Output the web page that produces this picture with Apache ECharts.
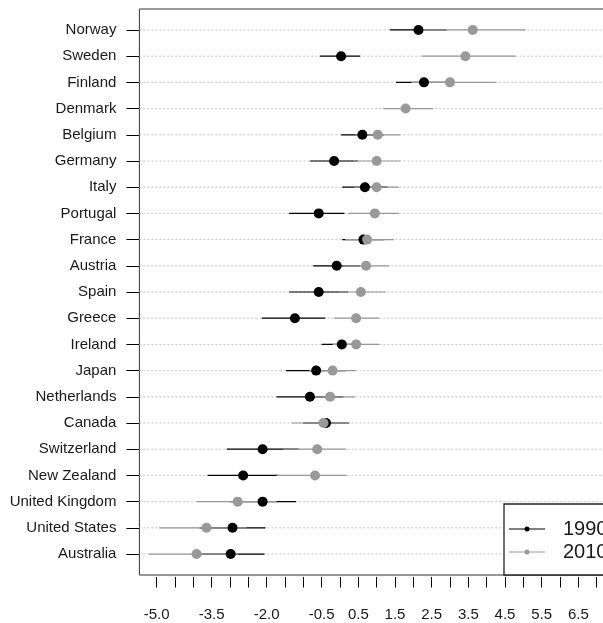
<!DOCTYPE html>
<html>
<head>
<meta charset="utf-8">
<script src="https://cdn.jsdelivr.net/npm/echarts@6/dist/echarts.min.js"></script>
<style>
  html, body { margin: 0; padding: 0; background: #fff; }
  #chart { width: 603px; height: 623px; }
</style>
</head>
<body>
<div id="chart"></div>
<script>
// Countries, top to bottom
const countries = ['Norway', 'Sweden', 'Finland', 'Denmark', 'Belgium', 'Germany', 'Italy',
  'Portugal', 'France', 'Austria', 'Spain', 'Greece', 'Ireland', 'Japan', 'Netherlands',
  'Canada', 'Switzerland', 'New Zealand', 'United Kingdom', 'United States', 'Australia'];

// 1990 estimates with interval bounds (Denmark has no 1990 value)
const est1990 = [2.14, 0.03, 2.29, null, 0.61, -0.16, 0.68, -0.58, 0.64, -0.09, -0.58, -1.23,
  0.05, -0.65, -0.82, -0.38, -2.11, -2.64, -2.11, -2.93, -2.98];
const lo1990 = [1.36, -0.55, 1.53, null, 0.03, -0.82, 0.06, -1.39, 0.06, -0.73, -1.39, -2.13,
  -0.50, -1.47, -1.73, -1.01, -3.09, -3.61, -3.02, -3.83, -3.90];
const hi1990 = [2.91, 0.55, 3.05, null, 1.19, 0.49, 1.30, 0.12, 1.21, 0.55, 0.22, -0.40,
  0.59, 0.16, 0.09, 0.25, -1.13, -1.67, -1.20, -2.03, -2.06];

// 2010 estimates with interval bounds
const est2010 = [3.62, 3.42, 3.00, 1.79, 1.03, 1.00, 1.00, 0.95, 0.74, 0.71, 0.57, 0.44,
  0.44, -0.20, -0.27, -0.45, -0.62, -0.68, -2.79, -3.64, -3.91];
const lo2010 = [2.17, 2.23, 1.95, 1.18, 0.42, 0.36, 0.38, 0.23, 0.14, 0.08, -0.03, -0.16,
  -0.20, -0.83, -0.94, -1.32, -1.55, -1.73, -3.91, -4.93, -5.21];
const hi2010 = [5.06, 4.79, 4.25, 2.54, 1.64, 1.64, 1.61, 1.61, 1.47, 1.34, 1.25, 1.07,
  1.07, 0.43, 0.41, 0.25, 0.16, 0.18, -1.73, -2.54, -2.78];

// Axis ticks and labelled values
const xTicks = [-5.0, -4.5, -4.0, -3.5, -3.0, -2.5, -2.0, -1.5, -1.0, -0.5, 0.0, 0.5, 1.0,
  1.5, 2.0, 2.5, 3.0, 3.5, 4.0, 4.5, 5.0, 5.5, 6.0, 6.5, 7.0, 7.5];
const xTickLabels = [-5.0, -3.5, -2.0, -0.5, 0.5, 1.5, 2.5, 3.5, 4.5, 5.5, 6.5];

const yearNames = ['1990', '2010'];
const yearColors = ['#000000', '#999999'];

const rowPos = countries.map((c, i) => i + 1);
const FONT = '"Liberation Sans", Arial, sans-serif';
const TEXT = '#1a1a1a';

function intervals(lo, hi) {
  const out = [];
  countries.forEach((c, i) => { if (lo[i] != null) out.push([lo[i], hi[i], i + 1]); });
  return out;
}
function points(est) {
  const out = [];
  countries.forEach((c, i) => { if (est[i] != null) out.push([est[i], i + 1]); });
  return out;
}

function segmentSeries(name, lo, hi, color, z) {
  return {
    type: 'custom', name: name, z: z, silent: true, animation: false,
    itemStyle: { color: color },
    encode: { x: [0, 1], y: 2 },
    data: intervals(lo, hi),
    renderItem: function (params, api) {
      const a = api.coord([api.value(0), api.value(2)]);
      const b = api.coord([api.value(1), api.value(2)]);
      return {
        type: 'line',
        shape: { x1: a[0], y1: a[1], x2: b[0], y2: b[1] },
        style: { stroke: color, lineWidth: 1.2 }
      };
    }
  };
}

function dotSeries(name, est, color, z) {
  return {
    type: 'scatter', name: name, z: z, silent: true, animation: false,
    symbol: 'circle', symbolSize: 10,
    itemStyle: { color: color, opacity: 1 },
    data: points(est)
  };
}

// dotted guide line across the plot for every row
const guideSeries = {
  type: 'custom', z: 1, silent: true, animation: false,
  encode: { y: 0 },
  data: rowPos.map(r => [r]),
  renderItem: function (params, api) {
    const cs = params.coordSys;
    const y = api.coord([0, api.value(0)])[1];
    return {
      type: 'line',
      shape: { x1: cs.x, y1: y, x2: cs.x + cs.width, y2: y },
      style: { stroke: '#c4c4c4', lineWidth: 1, lineDash: [2, 2] }
    };
  }
};

const legendIcon = 'path://M0,2.5L36,2.5L36,3.5L0,3.5Z M15.5,3A2.5,2.5 0 1 1 20.5,3A2.5,2.5 0 1 1 15.5,3Z';

const chart = echarts.init(document.getElementById('chart'), null, { renderer: 'canvas' });
chart.setOption({
  animation: false,
  backgroundColor: '#ffffff',
  grid: {
    left: 139.4, top: 9, width: 476.7, height: 566,
    outerBoundsMode: 'none', containLabel: false,
    show: true, borderColor: '#333', borderWidth: 1, backgroundColor: 'transparent'
  },
  xAxis: {
    type: 'value', min: -5.47, max: 7.53,
    axisLine: { show: false, onZero: false },
    splitLine: { show: false },
    offset: 2,
    axisTick: { show: true, length: 10.5, customValues: xTicks, lineStyle: { color: '#000', width: 1 } },
    axisLabel: {
      customValues: xTickLabels, formatter: v => v.toFixed(1),
      margin: 30, fontSize: 15, color: TEXT, fontFamily: FONT
    }
  },
  yAxis: {
    type: 'value', inverse: true, min: 0.2, max: 21.8,
    axisLine: { show: false, onZero: false },
    splitLine: { show: false },
    axisTick: { show: true, length: 13, customValues: rowPos, lineStyle: { color: '#000', width: 1 } },
    axisLabel: {
      customValues: rowPos, formatter: v => countries[Math.round(v) - 1],
      margin: 23, fontSize: 15, color: TEXT, fontFamily: FONT, padding: [3, 0, 0, 0]
    }
  },
  legend: {
    orient: 'vertical', left: 504, top: 504,
    padding: [15, 30, 13, 5],
    itemWidth: 36, itemHeight: 5, itemGap: 3,
    borderColor: '#222', borderWidth: 1.3, borderRadius: 0, backgroundColor: '#ffffff',
    selectedMode: false,
    textStyle: { fontSize: 20, color: TEXT, fontFamily: FONT, padding: [0, 0, 0, 13] },
    data: yearNames.map((n, i) => ({ name: n, icon: legendIcon, itemStyle: { color: yearColors[i] } }))
  },
  series: [
    guideSeries,
    segmentSeries(yearNames[0], lo1990, hi1990, yearColors[0], 2),
    segmentSeries(yearNames[1], lo2010, hi2010, yearColors[1], 3),
    dotSeries(yearNames[0], est1990, yearColors[0], 4),
    dotSeries(yearNames[1], est2010, yearColors[1], 5)
  ]
});
</script>
</body>
</html>
